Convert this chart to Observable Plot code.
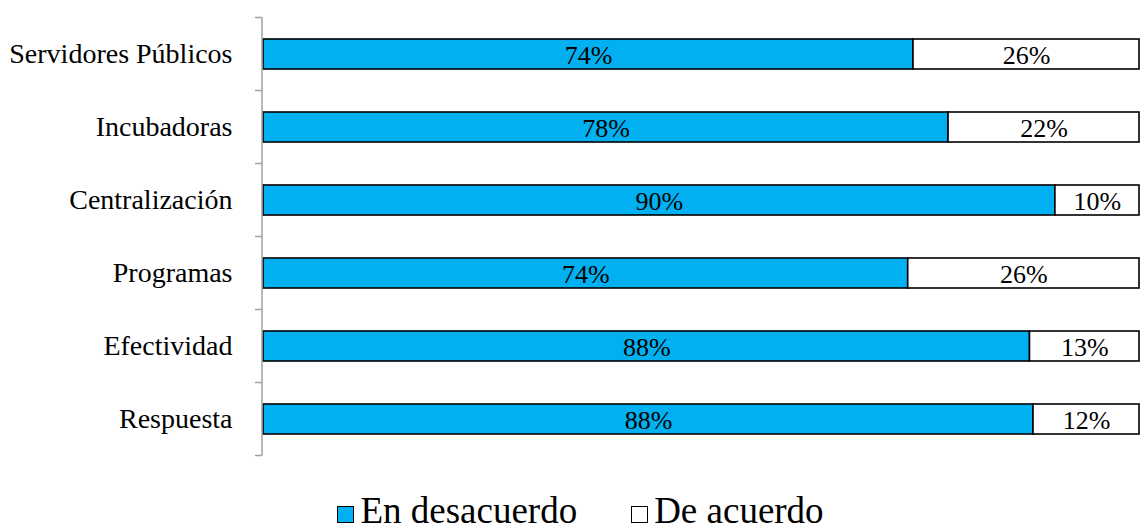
<!DOCTYPE html>
<html>
<head>
<meta charset="utf-8">
<script src="https://cdn.jsdelivr.net/npm/d3@7"></script>
<script src="https://cdn.jsdelivr.net/npm/@observablehq/plot@0.6"></script>
<style>
  body { margin: 0; background: #fff; font-family: 'Liberation Serif', Tinos, 'Times New Roman', Times, 'DejaVu Serif', serif; }
  #legend { display: flex; justify-content: center; align-items: center; margin-top: 1px; padding-left: 18px; font-size: 37px; line-height: 40px; color: #000; }
  .item { display: flex; align-items: center; margin: 0 27px; }
  .sw { width: 15px; height: 15px; border: 1.5px solid #000; margin-right: 6px; margin-top: 6px; }
  svg text { font-family: 'Liberation Serif', Tinos, 'Times New Roman', Times, 'DejaVu Serif', serif; }
</style>
</head>
<body>
<div id="chart"></div>
<script>
const categories = ["Servidores Públicos", "Incubadoras", "Centralización", "Programas", "Efectividad", "Respuesta"];
const series = ["En desacuerdo", "De acuerdo"];
const desacuerdo = [74.2, 78.2, 90.4, 73.6, 87.5, 87.9];
const acuerdo = [25.8, 21.8, 9.6, 26.4, 12.5, 12.1];
const colors = ["#00b0f0", "#ffffff"];

const data = [];
categories.forEach((c, i) => {
  data.push({category: c, series: series[0], value: desacuerdo[i]});
  data.push({category: c, series: series[1], value: acuerdo[i]});
});

const W = 1143, H = 490;
const FONT = "'Liberation Serif', Tinos, 'Times New Roman', Times, 'DejaVu Serif', serif";
const chart = Plot.plot({
  width: W,
  height: H,
  marginTop: 15,
  marginBottom: 32,
  marginLeft: 263,
  marginRight: 4,
  style: {fontFamily: FONT, fontSize: "28px", color: "#000", background: "#fff"},
  x: {domain: [0, 100], axis: null},
  y: {domain: categories, paddingInner: 0.594, paddingOuter: 0.297, label: null},
  color: {domain: series, range: colors},
  marks: [
    Plot.axisY({tickSize: 0, tickPadding: 31, fontSize: 28, label: null}),
    Plot.barX(data, Plot.stackX({x: "value", y: "category", fill: "series", order: series, stroke: "#000", strokeWidth: 1.6})),
    Plot.text(data, Plot.stackX({x: "value", y: "category", z: "series", order: series, text: d => Math.round(d.value) + "%", fontSize: 26, fill: "#000", dy: 1}))
  ]
});
document.getElementById("chart").appendChild(chart);

// axis line with ticks at category boundaries, positioned with the y scale
const ys = chart.scale("y");
const half = (ys.step - ys.bandwidth) / 2;
const bounds = categories.map(c => ys.apply(c) - half);
bounds.push(ys.apply(categories[categories.length - 1]) + ys.bandwidth + half);
const svg = d3.select(chart);
const x0 = chart.scale("x").apply(0) - 1;
const g = svg.append("g").attr("stroke", "#a0a0a0").attr("stroke-width", 1.5).attr("fill", "none");
g.append("line").attr("x1", x0).attr("x2", x0).attr("y1", bounds[0]).attr("y2", bounds[bounds.length - 1]);
bounds.forEach(b => g.append("line").attr("x1", x0 - 7).attr("x2", x0).attr("y1", b).attr("y2", b));

// legend
const legend = d3.select("body").append("div").attr("id", "legend");
series.forEach((s, i) => {
  const it = legend.append("div").attr("class", "item");
  it.append("div").attr("class", "sw").style("background", colors[i]);
  it.append("span").text(s);
});
</script>
</body>
</html>
